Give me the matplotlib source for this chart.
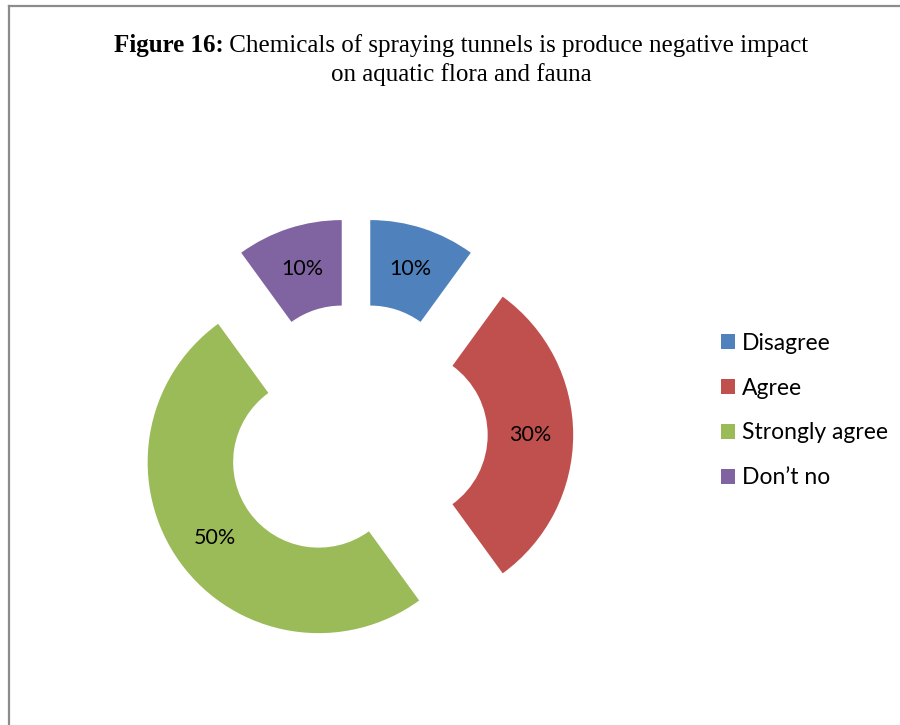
import matplotlib
matplotlib.use("Agg")
import matplotlib.pyplot as plt
from matplotlib.lines import Line2D

categories = ["Disagree", "Agree", "Strongly agree", "Don\u2019t no"]
shares = [10, 30, 50, 10]
colors = ["#4F81BD", "#C0504D", "#9BBB59", "#8064A2"]

W, H = 900, 725
fig = plt.figure(figsize=(W / 100, H / 100), dpi=100)
fig.patch.set_facecolor("white")

# Pie axes covers the whole figure; one data unit = 171 px, centre at (356, 435) px
scale = 171.0
cx, cy = 356.0, 435.0
ax = fig.add_axes([0, 0, 1, 1])
wedges, texts, autotexts = ax.pie(
    shares,
    colors=colors,
    startangle=90,
    counterclock=False,
    radius=1.0,
    explode=[0.27] * len(shares),
    wedgeprops=dict(width=0.5, edgecolor="none"),
    autopct=lambda p: f"{p:.0f}%",
    pctdistance=0.75,
    textprops=dict(family="Lato", fontsize=15.5, color="black"),
)
ax.set_xlim(-cx / scale, (W - cx) / scale)
ax.set_ylim(-(H - cy) / scale, cy / scale)
ax.set_aspect("auto")
ax.axis("off")

# Frame lines (left and top)
fig.add_artist(Line2D([9 / W, 9 / W], [0, 1 - 6 / H], color="#8c8c8c", lw=1.6))
fig.add_artist(Line2D([9 / W, 1], [1 - 6 / H, 1 - 6 / H], color="#8c8c8c", lw=1.6))

# Title: bold prefix followed by regular text
fig.canvas.draw()
renderer = fig.canvas.get_renderer()
title_font = dict(family="Liberation Serif", fontsize=18, color="black")
t_bold = fig.text(0, 1 - 52 / H, "Figure 16:", fontweight="bold", ha="left", va="baseline", **title_font)
t_rest = fig.text(0, 1 - 52 / H, " Chemicals of spraying tunnels is produce negative impact",
                  ha="left", va="baseline", **title_font)
wb = t_bold.get_window_extent(renderer).width
wr = t_rest.get_window_extent(renderer).width
x0 = 461 - (wb + wr) / 2
t_bold.set_x(x0 / W)
t_rest.set_x((x0 + wb) / W)
fig.text(461 / W, 1 - 81 / H, "on aquatic flora and fauna", ha="center", va="baseline", **title_font)

ax.legend(
    wedges, categories,
    loc="center left",
    bbox_to_anchor=(712 / W, 1 - 410.5 / H),
    bbox_transform=fig.transFigure,
    frameon=False,
    borderaxespad=0,
    prop=dict(family="Lato", size=16.5),
    handlelength=0.62, handleheight=0.62, handletextpad=0.3,
    labelspacing=1.04,
)

fig.savefig("out.png", dpi=100, facecolor="white")
